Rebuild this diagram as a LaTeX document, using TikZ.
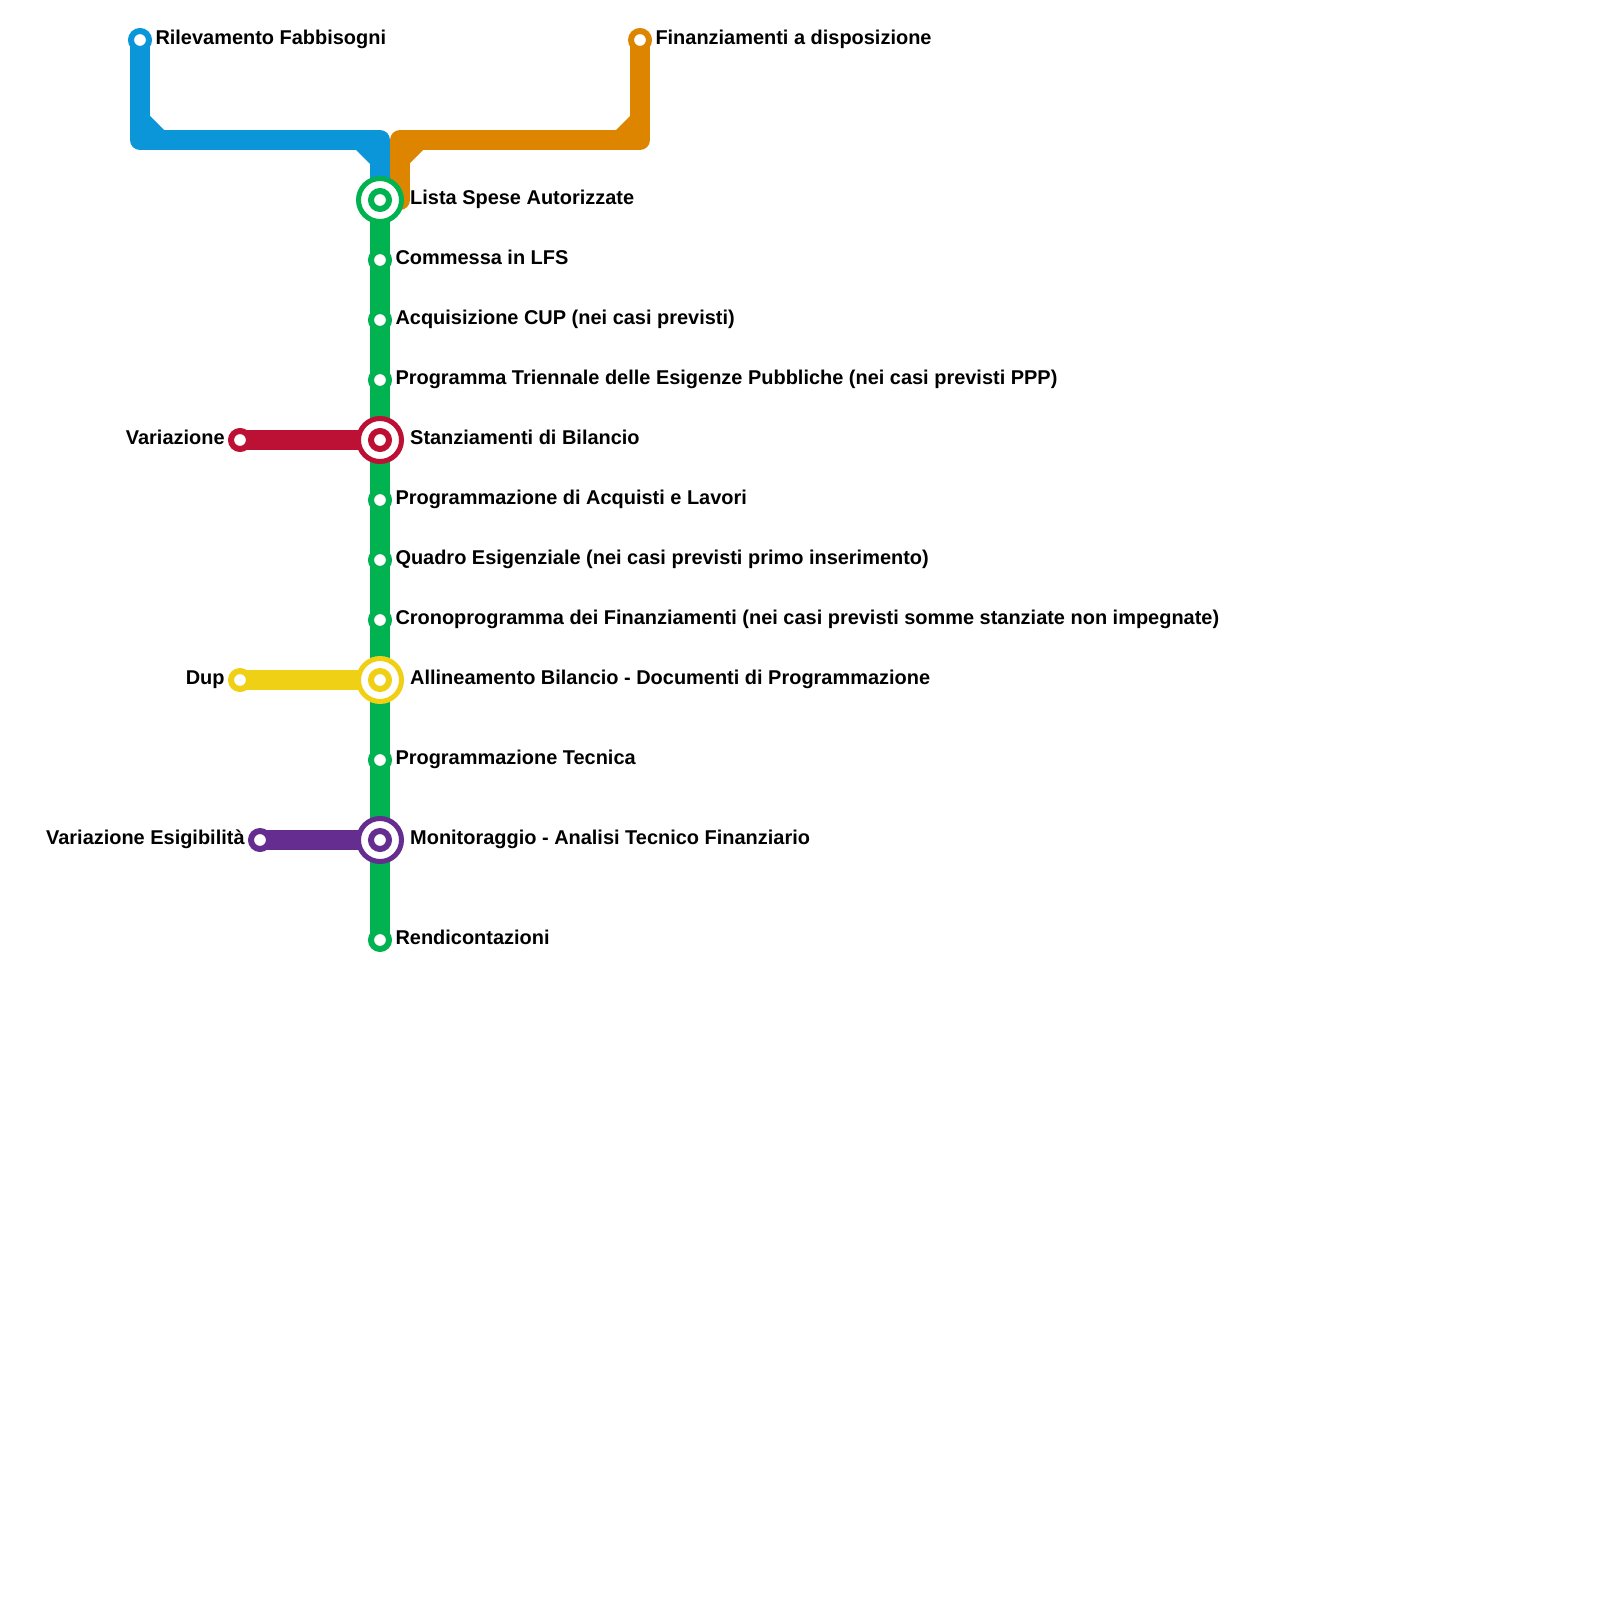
\documentclass[tikz,border=0pt]{standalone}
\usepackage{fontspec}
\setmainfont{Liberation Sans}
\usetikzlibrary{backgrounds}
\definecolor{lblue}{HTML}{0A96D9}
\definecolor{lorange}{HTML}{DE8500}
\definecolor{lgreen}{HTML}{00B350}
\definecolor{lred}{HTML}{BC1035}
\definecolor{lyellow}{HTML}{F0D015}
\definecolor{lpurple}{HTML}{662D91}
\tikzset{
  stop/.style={circle,draw=#1,fill=white,line width=6pt,minimum size=18pt,inner sep=0pt,outer sep=0pt},
  hubout/.style={circle,draw=#1,fill=white,line width=5pt,minimum size=43pt,inner sep=0pt,outer sep=0pt},
  hubin/.style={circle,draw=#1,fill=white,line width=6pt,minimum size=18pt,inner sep=0pt,outer sep=0pt},
  route/.style={draw=#1,line width=20pt,line join=round,line cap=round},
  chamfer/.style={fill=#1,draw=none},
  lab/.style={font=\fontsize{19.95}{24}\selectfont\bfseries,inner sep=0pt,anchor=base west,text=black},
  labl/.style={font=\fontsize{19.95}{24}\selectfont\bfseries,inner sep=0pt,anchor=base east,text=black}
}
\begin{document}
\begin{tikzpicture}[x=1pt,y=-1pt]
\useasboundingbox (0,0) rectangle (1600,1600);
% stations
\node[stop=lblue] (sblue) at (140,40) {};
\node[stop=lorange] (sorange) at (640,40) {};
\node[hubout=lgreen] (hub1) at (380,200) {};
\node[hubin=lgreen] (hub1i) at (380,200) {};
\node[stop=lgreen] (s2) at (380,260) {};
\node[stop=lgreen] (s3) at (380,320) {};
\node[stop=lgreen] (s4) at (380,380) {};
\node[hubout=lred] (hub2) at (380,440) {};
\node[hubin=lred] (hub2i) at (380,440) {};
\node[stop=lgreen] (s6) at (380,500) {};
\node[stop=lgreen] (s7) at (380,560) {};
\node[stop=lgreen] (s8) at (380,620) {};
\node[hubout=lyellow] (hub3) at (380,680) {};
\node[hubin=lyellow] (hub3i) at (380,680) {};
\node[stop=lgreen] (s10) at (380,760) {};
\node[hubout=lpurple] (hub4) at (380,840) {};
\node[hubin=lpurple] (hub4i) at (380,840) {};
\node[stop=lgreen] (s12) at (380,940) {};
\node[stop=lred] (sred) at (240,440) {};
\node[stop=lyellow] (syellow) at (240,680) {};
\node[stop=lpurple] (spurple) at (260,840) {};
% corners
\coordinate (b1) at (140,140);
\coordinate (b2) at (380,140);
\coordinate (o1) at (640,140);
\coordinate (o2) at (400,140);
\coordinate (o3) at (400,200);
% lines
\begin{pgfonlayer}{background}
\path[route=lorange] (sorange.center) -- (o1) -- (o2) -- (o3);
\path[chamfer=lorange] (632,114) -- (616,130) -- (632,132) -- cycle;
\path[chamfer=lorange] (423,150) -- (408,165) -- (408,148) -- (423,148) -- cycle;
\path[route=lblue] (sblue.center) -- (b1) -- (b2) -- (hub1.center);
\path[chamfer=lblue] (148,114) -- (164,130) -- (148,132) -- cycle;
\path[chamfer=lblue] (356,150) -- (372,166) -- (372,148) -- (356,148) -- cycle;
\path[route=lgreen] (hub1.center) -- (s2.center) -- (s3.center) -- (s4.center) -- (hub2.center) -- (s6.center) -- (s7.center) -- (s8.center) -- (hub3.center) -- (s10.center) -- (hub4.center) -- (s12.center);
\path[route=lred] (sred.center) -- (hub2.center);
\path[route=lyellow] (syellow.center) -- (hub3.center);
\path[route=lpurple] (spurple.center) -- (hub4.center);
\end{pgfonlayer}
% labels
\node[lab] (t1) at (155.3,45) {Rilevamento Fabbisogni};
\node[lab] (t2) at (655.3,45) {Finanziamenti a disposizione};
\node[lab] (t3) at (410,204.7) {Lista Spese Autorizzate};
\node[lab] (t4) at (395.3,264.7) {Commessa in LFS};
\node[lab] (t5) at (395.3,324.7) {Acquisizione CUP (nei casi previsti)};
\node[lab] (t6) at (395.3,384.7) {Programma Triennale delle Esigenze Pubbliche (nei casi previsti PPP)};
\node[lab] (t7) at (410,444.7) {Stanziamenti di Bilancio};
\node[lab] (t8) at (395.3,504.7) {Programmazione di Acquisti e Lavori};
\node[lab] (t9) at (395.3,564.7) {Quadro Esigenziale (nei casi previsti primo inserimento)};
\node[lab] (t10) at (395.3,624.7) {Cronoprogramma dei Finanziamenti (nei casi previsti somme stanziate non impegnate)};
\node[lab] (t11) at (410,684.7) {Allineamento Bilancio - Documenti di Programmazione};
\node[lab] (t12) at (395.3,764.7) {Programmazione Tecnica};
\node[lab] (t13) at (410,844.7) {Monitoraggio - Analisi Tecnico Finanziario};
\node[lab] (t14) at (395.3,944.7) {Rendicontazioni};
\node[labl] (t15) at (224.8,444.7) {Variazione};
\node[labl] (t16) at (224.8,684.7) {Dup};
\node[labl] (t17) at (244.8,844.7) {Variazione Esigibilità};
\end{tikzpicture}
\end{document}
